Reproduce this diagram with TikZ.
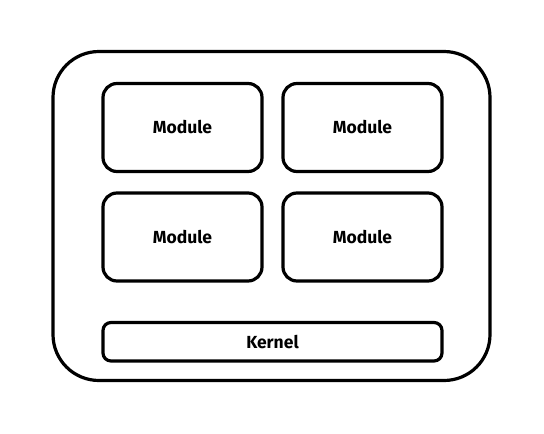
\documentclass[tikz,border=0pt]{standalone}
\usepackage{fontspec}
\setmainfont{Fira Sans}
\begin{document}
\begin{tikzpicture}[
        x=1pt, y=-1pt,
        box/.style={draw, line width=3.2pt, rounded corners=14pt, minimum width=159pt, minimum height=88pt, font=\bfseries\fontsize{17.5}{20}\selectfont, inner sep=0pt},
      ]
        \useasboundingbox (0,0) rectangle (544,434);
        % Outer frame
        \node[draw, line width=3.2pt, rounded corners=46pt, minimum width=437pt, minimum height=329pt] (system) at (271.5, 216) {};

        % Modules
        \node[box] (m1) at (182.5, 127.5) {Module};
        \node[box] (m2) at (362.5, 127.5) {Module};
        \node[box] (m3) at (182.5, 237) {Module};
        \node[box] (m4) at (362.5, 237) {Module};

        % Kernel
        \node[box, rounded corners=8pt, minimum width=339pt, minimum height=38.5pt] (kernel) at (272.5, 341.75) {Kernel};
      \end{tikzpicture}
\end{document}
